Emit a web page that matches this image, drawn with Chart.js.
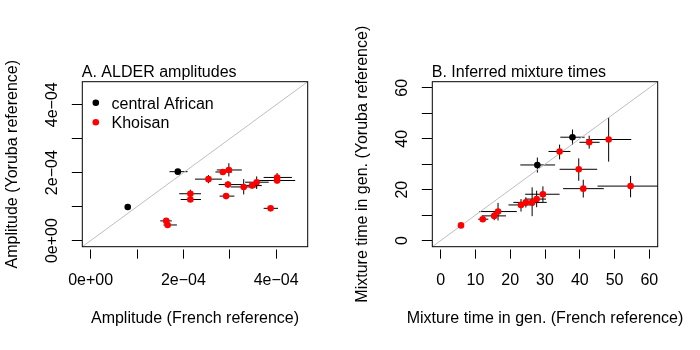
<!DOCTYPE html>
<html>
<head>
<meta charset="utf-8">
<script src="https://cdn.jsdelivr.net/npm/chart.js@4/dist/chart.umd.min.js"></script>
<style>
  html, body { margin: 0; padding: 0; background: #fff; }
  #wrap { position: relative; width: 700px; height: 350px; }
  canvas { position: absolute; top: 0; }
</style>
</head>
<body>
<div id="wrap">
  <canvas id="chartA" width="350" height="350" style="left:0px"></canvas>
  <canvas id="chartB" width="350" height="350" style="left:350px"></canvas>
</div>
<script>
// ---------------- Data ----------------
const seriesLabels = ['central African', 'Khoisan'];
const seriesColors = ['#000000', '#ff0000'];

// Panel A: ALDER amplitudes (x: French reference, y: Yoruba reference)
const ampAfrX   = [0.80e-4, 1.88e-4];
const ampAfrY   = [0.99e-4, 2.03e-4];
const ampAfrXLo = [0.78e-4, 1.70e-4];
const ampAfrXHi = [0.82e-4, 2.09e-4];
const ampAfrYLo = [0.97e-4, 1.98e-4];
const ampAfrYHi = [1.01e-4, 2.08e-4];

const ampKhoX   = [1.63e-4,1.66e-4,2.15e-4,2.15e-4,2.54e-4,2.85e-4,2.98e-4,2.96e-4,2.92e-4,3.30e-4,3.48e-4,3.58e-4,3.88e-4,4.02e-4,4.02e-4];
const ampKhoY   = [0.58e-4,0.46e-4,1.38e-4,1.21e-4,1.81e-4,2.02e-4,2.08e-4,1.65e-4,1.31e-4,1.58e-4,1.62e-4,1.72e-4,0.95e-4,1.86e-4,1.77e-4];
const ampKhoXLo = [1.50e-4,1.57e-4,1.91e-4,1.94e-4,2.25e-4,2.69e-4,2.72e-4,2.76e-4,2.78e-4,3.02e-4,3.30e-4,3.33e-4,3.73e-4,3.73e-4,3.62e-4];
const ampKhoXHi = [1.75e-4,1.86e-4,2.38e-4,2.38e-4,2.83e-4,3.05e-4,3.26e-4,3.30e-4,3.10e-4,3.59e-4,3.69e-4,3.84e-4,4.04e-4,4.34e-4,4.41e-4];
const ampKhoYLo = [0.53e-4,0.43e-4,1.25e-4,1.15e-4,1.69e-4,1.95e-4,1.89e-4,1.55e-4,1.27e-4,1.36e-4,1.56e-4,1.52e-4,0.92e-4,1.74e-4,1.68e-4];
const ampKhoYHi = [0.63e-4,0.49e-4,1.50e-4,1.27e-4,1.93e-4,2.09e-4,2.28e-4,1.75e-4,1.35e-4,1.81e-4,1.68e-4,1.89e-4,0.98e-4,1.99e-4,1.86e-4];

const ampLimits     = [0, 4.5e-4];
const ampTickValues = [0, 1e-4, 2e-4, 3e-4, 4e-4];
const ampTickLabels = ['0e+00', '', '2e\u221204', '', '4e\u221204'];

// Panel B: inferred mixture times in generations
const timeAfrX   = [27.8, 37.9];
const timeAfrY   = [29.7, 40.6];
const timeAfrXLo = [22.9, 34.4];
const timeAfrXHi = [32.9, 41.4];
const timeAfrYLo = [26.7, 37.6];
const timeAfrYHi = [32.6, 43.6];

const timeKhoX   = [5.85,12.1,15.4,16.5,23.1,24.5,26.3,27.6,29.4,34.2,42.7,48.3,39.7,41.0,54.6];
const timeKhoY   = [5.96,8.4,9.7,11.4,14.0,15.0,15.0,16.3,18.2,35.0,38.6,39.7,28.0,20.4,21.4];
const timeKhoXLo = [5.5,10.8,11.8,11.1,19.5,20.9,22.9,24.3,24.3,31.0,39.9,41.9,34.2,35.2,45.1];
const timeKhoXHi = [6.2,13.7,18.8,21.9,26.9,28.1,30.5,30.3,34.2,37.3,45.7,54.8,45.0,46.9,63.0];
const timeKhoYLo = [5.6,7.8,8.0,7.9,11.4,13.0,9.6,13.1,15.1,31.9,36.1,31.0,23.5,16.9,17.0];
const timeKhoYHi = [6.3,9.0,11.6,14.8,16.3,17.0,20.9,19.6,21.3,37.7,41.2,48.4,32.3,23.9,25.4];

const timeLimits      = [0, 60];
const timeTickValues  = [0, 10, 20, 30, 40, 50, 60];
const timeXTickLabels = ['0', '10', '20', '30', '40', '50', '60'];
const timeYTickLabels = ['0', '', '20', '', '40', '', '60'];

// ---------------- Helpers ----------------
const FONT = "'Liberation Sans', Arial, Helvetica, sans-serif";
Chart.defaults.font.family = FONT;
Chart.defaults.font.size = 16;
Chart.defaults.color = '#000';

function zip(xs, ys) { return xs.map((x, i) => ({ x: x, y: ys[i] })); }
function expand(lim) { const d = (lim[1] - lim[0]) * 0.04; return [lim[0] - d, lim[1] + d]; }

function makePanel(canvasId, p) {
  const lims = expand(p.limits);
  const errorSets = [p.afrErr, p.khoErr];

  const errorBarPlugin = {
    id: 'errorBars' + canvasId,
    beforeDatasetsDraw(chart) {
      const { ctx, chartArea, scales } = chart;
      const xs = scales.x, ys = scales.y;
      ctx.save();
      ctx.beginPath();
      ctx.rect(chartArea.left, chartArea.top, chartArea.right - chartArea.left, chartArea.bottom - chartArea.top);
      ctx.clip();
      ctx.strokeStyle = '#000';
      ctx.lineWidth = 1;
      [0, 1].forEach(di => {
        const pts = chart.data.datasets[di].data;
        const e = errorSets[di];
        pts.forEach((pt, i) => {
          const px = xs.getPixelForValue(pt.x), py = ys.getPixelForValue(pt.y);
          ctx.beginPath();
          ctx.moveTo(xs.getPixelForValue(e.xLo[i]), py);
          ctx.lineTo(xs.getPixelForValue(e.xHi[i]), py);
          ctx.moveTo(px, ys.getPixelForValue(e.yLo[i]));
          ctx.lineTo(px, ys.getPixelForValue(e.yHi[i]));
          ctx.stroke();
        });
      });
      ctx.restore();
    }
  };

  const decorPlugin = {
    id: 'decor' + canvasId,
    afterDraw(chart) {
      const { ctx, chartArea, scales } = chart;
      ctx.save();
      // box
      ctx.strokeStyle = '#000';
      ctx.lineWidth = 1;
      ctx.strokeRect(chartArea.left, chartArea.top, chartArea.right - chartArea.left, chartArea.bottom - chartArea.top);
      ctx.fillStyle = '#000';
      ctx.font = "16px " + FONT;
      // panel title
      ctx.textAlign = 'left';
      ctx.textBaseline = 'alphabetic';
      ctx.fillText(p.title, chartArea.left - 0.5, 77);
      // x axis title
      ctx.textAlign = 'center';
      ctx.fillText(p.xTitle, (chartArea.left + chartArea.right) / 2, 323.3);
      // y tick labels (rotated, R style) placed on the y scale's tick pixels
      const ys = scales.y;
      p.tickValues.forEach((v, i) => {
        const lab = p.yLabels[i];
        if (!lab) return;
        ctx.save();
        ctx.translate(52.8, ys.getPixelForValue(v));
        ctx.rotate(-Math.PI / 2);
        ctx.textAlign = 'center';
        ctx.textBaseline = 'middle';
        ctx.fillText(lab, 0, 0);
        ctx.restore();
      });
      // legend
      if (p.legend) {
        ctx.textAlign = 'left';
        ctx.textBaseline = 'alphabetic';
        const lx = chartArea.left + 13.5, ly = [102.7, 122.3];
        seriesLabels.forEach((lab, i) => {
          ctx.beginPath();
          ctx.fillStyle = seriesColors[i];
          ctx.arc(lx, ly[i], 3.3, 0, Math.PI * 2);
          ctx.fill();
          ctx.fillStyle = '#000';
          ctx.fillText(lab, lx + 15.7, ly[i] + 5.8);
        });
      }
      ctx.restore();
    }
  };

  return new Chart(document.getElementById(canvasId), {
    type: 'scatter',
    data: {
      datasets: [
        { label: seriesLabels[0], data: zip(p.afrX, p.afrY), backgroundColor: seriesColors[0],
          borderWidth: 0, pointRadius: 3.3, pointHoverRadius: 3.3 },
        { label: seriesLabels[1], data: zip(p.khoX, p.khoY), backgroundColor: seriesColors[1],
          borderWidth: 0, pointRadius: 3.3, pointHoverRadius: 3.3 },
        { label: 'identity', data: [{ x: lims[0], y: lims[0] }, { x: lims[1], y: lims[1] }],
          showLine: true, borderColor: '#bebebe', borderWidth: 1, pointRadius: 0, fill: false }
      ]
    },
    options: {
      responsive: false,
      animation: false,
      events: [],
      layout: { padding: { top: 81.7, right: 42.3, bottom: 0, left: 0 } },
      plugins: { legend: { display: false }, tooltip: { enabled: false }, title: { display: false } },
      scales: {
        x: {
          type: 'linear', min: lims[0], max: lims[1],
          afterBuildTicks: s => { s.ticks = p.tickValues.map(v => ({ value: v })); },
          afterFit: s => { s.height = 103.3; },
          border: { display: false },
          grid: { display: true, drawOnChartArea: false, drawTicks: true, tickLength: 12,
                  tickColor: '#000', tickWidth: 1, tickBorderDash: [0, 2.5, 9.5, 10] },
          ticks: { padding: 12, color: '#000', font: { size: 16 },
                   callback: (v) => { const i = p.tickValues.indexOf(v); return i >= 0 ? p.xLabels[i] : ''; },
                   autoSkip: false, maxRotation: 0, minRotation: 0 },
          title: { display: false }
        },
        y: {
          type: 'linear', min: lims[0], max: lims[1],
          afterBuildTicks: s => { s.ticks = p.tickValues.map(v => ({ value: v })); },
          afterFit: s => { s.width = 82.3; },
          border: { display: false },
          grid: { display: true, drawOnChartArea: false, drawTicks: true, tickLength: 10.5,
                  tickColor: '#000', tickWidth: 1 },
          ticks: { display: false },
          title: { display: true, text: p.yTitle, color: '#000', font: { size: 16, lineHeight: 1.2 },
                   padding: { top: 3, bottom: 0 } }
        }
      }
    },
    plugins: [errorBarPlugin, decorPlugin]
  });
}

makePanel('chartA', {
  title: 'A. ALDER amplitudes', legend: true,
  limits: ampLimits, tickValues: ampTickValues, xLabels: ampTickLabels, yLabels: ampTickLabels,
  xTitle: 'Amplitude (French reference)', yTitle: 'Amplitude (Yoruba reference)',
  afrX: ampAfrX, afrY: ampAfrY, khoX: ampKhoX, khoY: ampKhoY,
  afrErr: { xLo: ampAfrXLo, xHi: ampAfrXHi, yLo: ampAfrYLo, yHi: ampAfrYHi },
  khoErr: { xLo: ampKhoXLo, xHi: ampKhoXHi, yLo: ampKhoYLo, yHi: ampKhoYHi }
});

makePanel('chartB', {
  title: 'B. Inferred mixture times', legend: false,
  limits: timeLimits, tickValues: timeTickValues, xLabels: timeXTickLabels, yLabels: timeYTickLabels,
  xTitle: 'Mixture time in gen. (French reference)', yTitle: 'Mixture time in gen. (Yoruba reference)',
  afrX: timeAfrX, afrY: timeAfrY, khoX: timeKhoX, khoY: timeKhoY,
  afrErr: { xLo: timeAfrXLo, xHi: timeAfrXHi, yLo: timeAfrYLo, yHi: timeAfrYHi },
  khoErr: { xLo: timeKhoXLo, xHi: timeKhoXHi, yLo: timeKhoYLo, yHi: timeKhoYHi }
});
</script>
</body>
</html>
